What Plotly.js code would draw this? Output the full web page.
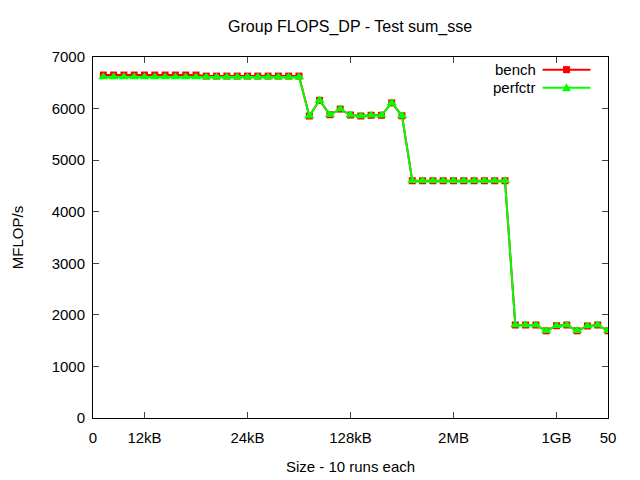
<!DOCTYPE html>
<html>
<head>
<meta charset="utf-8">
<script src="https://cdn.plot.ly/plotly-3.0.1.min.js"></script>
<style>html,body{margin:0;padding:0;background:#fff;}#chart{width:640px;height:480px;}</style>
</head>
<body>
<div id="chart"></div>
<script>
// x positions (run index)
const xValues = [1,2,3,4,5,6,7,8,9,10,11,12,13,14,15,16,17,18,19,20,21,22,23,24,25,26,27,28,29,30,31,32,33,34,35,36,37,38,39,40,41,42,43,44,45,46,47,48,49,50];
const benchValues = [6650,6650,6650,6650,6650,6650,6650,6650,6650,6650,6630,6630,6630,6630,6630,6630,6630,6630,6630,6630,5856,6160,5880,5990,5875,5856,5870,5870,6110,5860,4600,4600,4600,4600,4600,4600,4600,4600,4600,4600,1803,1803,1803,1690,1790,1803,1690,1784,1803,1690];
const perfctrValues = [6612,6612,6612,6612,6612,6612,6612,6612,6612,6612,6612,6612,6612,6612,6612,6612,6612,6612,6612,6612,5856,6160,5880,5990,5875,5856,5870,5870,6110,5860,4600,4600,4600,4600,4600,4600,4600,4600,4600,4600,1803,1803,1803,1690,1790,1803,1690,1784,1803,1690];
const xTickVals = [0,5,15,25,35,45,50];
const xTickText = ['0','12kB','24kB','128kB','2MB','1GB','50'];
const seriesNames = ['bench','perfctr'];

const font = 'Liberation Sans, Arial, sans-serif';
const traces = [
  {x:xValues, y:benchValues, name:seriesNames[0], type:'scatter', mode:'lines+markers',
   line:{color:'#ff0000', width:2}, marker:{symbol:'square', size:7, color:'#ff0000'}, showlegend:false},
  {x:xValues, y:perfctrValues, name:seriesNames[1], type:'scatter', mode:'lines+markers',
   line:{color:'#00ff00', width:2}, marker:{symbol:'triangle-up', size:9, color:'#00ff00'}, showlegend:false}
];

// custom legend (text left, sample right, as in the reference)
const legY = [0.965, 0.915];
const legColors = ['#ff0000','#00ff00'];
const shapes = [];
const annotations = [];
seriesNames.forEach((n,i)=>{
  annotations.push({xref:'paper', yref:'paper', x:0.865, y:legY[i], text:n, showarrow:false,
    xanchor:'right', yanchor:'middle', font:{family:font, size:15, color:'#000'}});
  shapes.push({type:'line', xref:'paper', yref:'paper', x0:0.873, x1:0.966, y0:legY[i], y1:legY[i],
    line:{color:legColors[i], width:2}});
});
// legend markers
shapes.push({type:'rect', xref:'paper', yref:'paper', xsizemode:'pixel', ysizemode:'pixel',
  xanchor:0.9195, yanchor:legY[0], x0:-3.5, x1:3.5, y0:-3.5, y1:3.5, fillcolor:'#ff0000', line:{width:0}});
shapes.push({type:'path', xref:'paper', yref:'paper', xsizemode:'pixel', ysizemode:'pixel',
  xanchor:0.9195, yanchor:legY[1], path:'M -4.5 -3.5 L 4.5 -3.5 L 0 4.5 Z', fillcolor:'#00ff00', line:{width:0}});

const layout = {
  width:640, height:480,
  margin:{l:93, r:32, t:57, b:62},
  paper_bgcolor:'#fff', plot_bgcolor:'#fff',
  font:{family:font, size:15, color:'#000'},
  title:{text:'Group FLOPS_DP - Test sum_sse', x:0.547, xanchor:'center', y:0.945, yanchor:'middle', font:{family:font, size:16}},
  xaxis:{range:[0,50], tickvals:xTickVals, ticktext:xTickText, ticks:'inside', ticklen:6,
    showline:true, linecolor:'#000', linewidth:1, mirror:'allticks', showgrid:false, zeroline:false,
    ticklabelstandoff:6,
    tickfont:{family:font, size:15}, title:{text:'Size - 10 runs each', font:{family:font, size:15}, standoff:16}},
  yaxis:{range:[0,7000], dtick:1000, ticks:'inside', ticklen:6,
    showline:true, linecolor:'#000', linewidth:1, mirror:'allticks', showgrid:false, zeroline:false,
    ticklabelstandoff:4,
    tickfont:{family:font, size:15}, title:{text:'MFLOP/s', font:{family:font, size:15}, standoff:24}},
  shapes:shapes, annotations:annotations
};
Plotly.newPlot('chart', traces, layout, {staticPlot:true});
</script>
</body>
</html>
